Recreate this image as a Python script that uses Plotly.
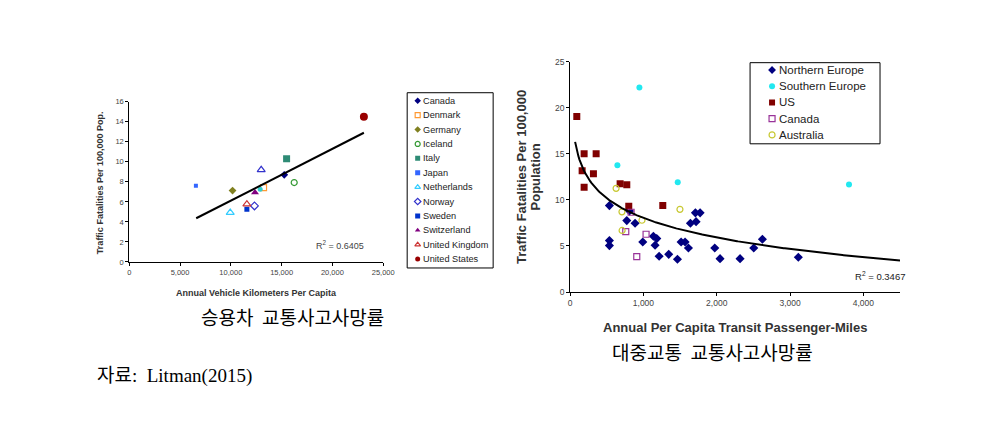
import numpy as np
import plotly.graph_objects as go

# ---------------- Left chart data ----------------
countries = ["Canada", "Denmark", "Germany", "Iceland", "Italy", "Japan", "Netherlands",
             "Norway", "Sweden", "Switzerland", "United Kingdom", "United States"]
vkm_per_capita = [15260, 13220, 10170, 16240, 15490, 6560, 9940, 12330, 11580, 12380, 11580, 23100]
fatalities_per_100k = [8.7, 7.43, 7.13, 7.93, 10.3, 7.6, 4.93, 5.6, 5.27, 6.93, 5.77, 14.5]
extra_vkm = [12990, 12890]
extra_fatalities = [9.2, 7.27]
left_trend_x = [6590, 23100]
left_trend_slope = 0.000517
left_trend_intercept = 0.96
left_r2 = "0.6405"
left_xticks = [0, 5000, 10000, 15000, 20000, 25000]
left_yticks = [0, 2, 4, 6, 8, 10, 12, 14, 16]

# ---------------- Right chart data ----------------
regions = ["Northern Europe", "Southern Europe", "US", "Canada", "Australia"]
north_x = [536, 536, 536, 773, 810, 886, 991, 1136, 1182, 1159, 1214, 1345, 1464, 1514, 1568,
           1614, 1641, 1709, 1773, 1718, 1973, 2045, 2318, 2505, 2623, 3113]
north_y = [9.38, 5.58, 5.04, 7.75, 8.8, 7.46, 5.43, 6.05, 5.80, 5.07, 3.88, 4.09, 3.55, 5.43, 5.43,
           4.78, 7.46, 8.59, 8.59, 7.64, 4.78, 3.62, 3.62, 4.78, 5.72, 3.77]
south_x = [945, 645, 1468, 3804]
south_y = [22.2, 13.77, 11.92, 11.67]
us_x = [91, 191, 355, 164, 318, 191, 682, 773, 800, 1264]
us_y = [19.06, 15.0, 15.0, 13.15, 12.83, 11.38, 11.74, 11.63, 9.3, 9.38]
canada_x = [832, 759, 1036, 909]
canada_y = [8.66, 6.56, 6.27, 3.84]
australia_x = [627, 707, 709, 980, 1498]
australia_y = [11.25, 8.7, 6.68, 7.79, 8.97]
right_trend_xmin = 68
right_trend_xmax = 4500
right_trend_a = -3.07
right_trend_b = 29.25
right_r2 = "0.3467"
right_xticks = [0, 1000, 2000, 3000, 4000]
right_yticks = [0, 5, 10, 15, 20, 25]

caption_left = "승용차  교통사고사망률"
caption_right = "대중교통  교통사고사망률"
source_text = "자료:  Litman(2015)"

# ---------------- Styles ----------------
left_styles = {
    "Canada": dict(symbol="diamond", color="#000080", size=6),
    "Denmark": dict(symbol="square-open", color="#FF9933", size=6),
    "Germany": dict(symbol="diamond", color="#808020", size=6),
    "Iceland": dict(symbol="circle-open", color="#339933", size=6),
    "Italy": dict(symbol="square", color="#2E8B75", size=7),
    "Japan": dict(symbol="square", color="#3366FF", size=4),
    "Netherlands": dict(symbol="triangle-up-open", color="#33CCFF", size=7),
    "Norway": dict(symbol="diamond-open", color="#3333CC", size=6),
    "Sweden": dict(symbol="square", color="#0033CC", size=5),
    "Switzerland": dict(symbol="triangle-up", color="#800080", size=7),
    "United Kingdom": dict(symbol="triangle-up-open", color="#CC3333", size=7),
    "United States": dict(symbol="circle", color="#990000", size=8),
}
extra_styles = [dict(symbol="triangle-up-open", color="#3333CC", size=7),
                dict(symbol="circle", color="#33CCCC", size=5)]
right_styles = {
    "Northern Europe": dict(symbol="diamond", color="#000080", size=7),
    "Southern Europe": dict(symbol="circle", color="#22E8F0", size=6),
    "US": dict(symbol="square", color="#800000", size=7),
    "Canada": dict(symbol="square-open", color="#993399", size=6),
    "Australia": dict(symbol="circle-open", color="#C8C832", size=6),
}
right_data = {
    "Northern Europe": (north_x, north_y),
    "Southern Europe": (south_x, south_y),
    "US": (us_x, us_y),
    "Canada": (canada_x, canada_y),
    "Australia": (australia_x, australia_y),
}

# The page body has an 8px margin; size the figure so the page fits the 992x423 window.
PAGE_W, PAGE_H, BODY = 992, 423, 8
W, H = PAGE_W - 2 * BODY, PAGE_H - 2 * BODY
# small empirical correction between page pixels and the photographed picture
SX, OX = 0.987, 1.8
SY, OY = 0.974, 5.6


def px_x(p):
    q = (p - OX) / SX
    return (q - BODY) / W


def px_y(p):
    q = (p - OY) / SY
    return 1 - (q - BODY) / H


def mk(style, size=None):
    is_open = style["symbol"].endswith("-open")
    return dict(symbol=style["symbol"], color=style["color"],
                size=size if size is not None else style["size"],
                line=dict(color=style["color"], width=1.2 if is_open else 0))


fig = go.Figure()

# Left chart points
for name, xv, yv in zip(countries, vkm_per_capita, fatalities_per_100k):
    fig.add_trace(go.Scatter(x=[xv], y=[yv], mode="markers", name=name, showlegend=False,
                             marker=mk(left_styles[name]), xaxis="x", yaxis="y"))
for st, xv, yv in zip(extra_styles, extra_vkm, extra_fatalities):
    fig.add_trace(go.Scatter(x=[xv], y=[yv], mode="markers", showlegend=False,
                             marker=mk(st), xaxis="x", yaxis="y"))
lt_x = np.array(left_trend_x, dtype=float)
fig.add_trace(go.Scatter(x=lt_x, y=left_trend_slope * lt_x + left_trend_intercept, mode="lines",
                         line=dict(color="black", width=2), showlegend=False, xaxis="x", yaxis="y"))

# Right chart points
for name in regions:
    xv, yv = right_data[name]
    fig.add_trace(go.Scatter(x=xv, y=yv, mode="markers", name=name, showlegend=False,
                             marker=mk(right_styles[name]), xaxis="x2", yaxis="y2"))
rt_x = np.linspace(right_trend_xmin, right_trend_xmax, 300)
fig.add_trace(go.Scatter(x=rt_x, y=right_trend_a * np.log(rt_x) + right_trend_b, mode="lines",
                         line=dict(color="black", width=2), showlegend=False, xaxis="x2", yaxis="y2"))

# Manual legends (drawn in their own small axes)
for i, name in enumerate(countries):
    fig.add_trace(go.Scatter(x=[10.5], y=[i], mode="markers", showlegend=False,
                             marker=mk(left_styles[name], 5), xaxis="x3", yaxis="y3", hoverinfo="skip"))
for i, name in enumerate(regions):
    fig.add_trace(go.Scatter(x=[22], y=[i], mode="markers", showlegend=False,
                             marker=mk(right_styles[name], 6), xaxis="x4", yaxis="y4", hoverinfo="skip"))

annotations = []
for i, name in enumerate(countries):
    annotations.append(dict(x=13.5, y=i, xref="x3", yref="y3", text=name, showarrow=False,
                            xanchor="left", yanchor="middle",
                            font=dict(family="Liberation Sans, Arial", size=9.2, color="#222")))
for i, name in enumerate(regions):
    annotations.append(dict(x=27, y=i, xref="x4", yref="y4", text=name, showarrow=False,
                            xanchor="left", yanchor="middle",
                            font=dict(family="Liberation Sans, Arial", size=11.5, color="#222")))


def note(x, y, text, font, anchor="center", angle=0):
    return dict(x=px_x(x), y=px_y(y), xref="paper", yref="paper", showarrow=False,
                xanchor=anchor, yanchor="middle", text=text, font=font, textangle=angle)


sans = "Liberation Sans, Arial"
annotations += [
    note(256, 293, "<b>Annual Vehicle Kilometers Per Capita</b>", dict(family=sans, size=9, color="#333")),
    note(100, 183, "<b>Traffic Fatalities Per 100,000 Pop.</b>", dict(family=sans, size=9, color="#333"),
         angle=-90),
    note(340, 245, "R<sup>2</sup> = " + left_r2, dict(family=sans, size=9, color="#444")),
    note(735, 327, "<b>Annual Per Capita Transit Passenger-Miles</b>", dict(family=sans, size=13, color="#333")),
    note(522, 177, "<b>Traffic Fatalities Per 100,000</b>", dict(family=sans, size=13, color="#333"), angle=-90),
    note(535.5, 177, "<b>Population</b>", dict(family=sans, size=13, color="#333"), angle=-90),
    note(880, 276, "R<sup>2</sup> = " + right_r2, dict(family=sans, size=9.5, color="#222")),
    note(292, 316, caption_left, dict(family="Noto Sans CJK KR", size=19, color="black")),
    note(712, 351, caption_right, dict(family="Noto Sans CJK KR", size=19, color="black")),
    note(95, 376, source_text, dict(family="Liberation Serif, Noto Sans CJK KR", size=19, color="black"),
         anchor="left"),
]

tick_l = dict(family=sans, size=7.5, color="#444")
tick_r = dict(family=sans, size=8.5, color="#444")
axis_common = dict(showgrid=False, zeroline=False, showline=True, linecolor="black", linewidth=1,
                   ticks="outside", ticklen=3, tickcolor="black", fixedrange=True)

fig.update_layout(
    width=W, height=H, margin=dict(l=0, r=0, t=0, b=0),
    paper_bgcolor="white", plot_bgcolor="white", showlegend=False,
    xaxis=dict(domain=[px_x(129), px_x(383)], anchor="y", range=[0, 25000], tickvals=left_xticks,
               tickformat=",d", tickfont=tick_l, **axis_common),
    yaxis=dict(domain=[px_y(262), px_y(102)], anchor="x", range=[0, 16], tickvals=left_yticks,
               tickfont=tick_l, **axis_common),
    xaxis2=dict(domain=[px_x(570), px_x(900)], anchor="y2", range=[0, 4500], tickvals=right_xticks,
                tickformat=",d", tickfont=tick_r, **axis_common),
    yaxis2=dict(domain=[px_y(292), px_y(62)], anchor="x2", range=[0, 25], tickvals=right_yticks,
                tickfont=tick_r, **axis_common),
    xaxis3=dict(domain=[px_x(407), px_x(493)], anchor="y3", range=[0, 86], visible=False, fixedrange=True),
    yaxis3=dict(domain=[px_y(268), px_y(93)], anchor="x3", range=[11.62, -0.56], visible=False, fixedrange=True),
    xaxis4=dict(domain=[px_x(750), px_x(880)], anchor="y4", range=[0, 130], visible=False, fixedrange=True),
    yaxis4=dict(domain=[px_y(144), px_y(63)], anchor="x4", range=[4.55, -0.45], visible=False, fixedrange=True),
    annotations=annotations,
    shapes=[
        dict(type="rect", xref="x3 domain", yref="y3 domain", x0=0, x1=1, y0=0, y1=1,
             line=dict(color="black", width=1)),
        dict(type="rect", xref="x4 domain", yref="y4 domain", x0=0, x1=1, y0=0, y1=1,
             line=dict(color="black", width=1)),
    ],
)

fig.write_html("out.html")
